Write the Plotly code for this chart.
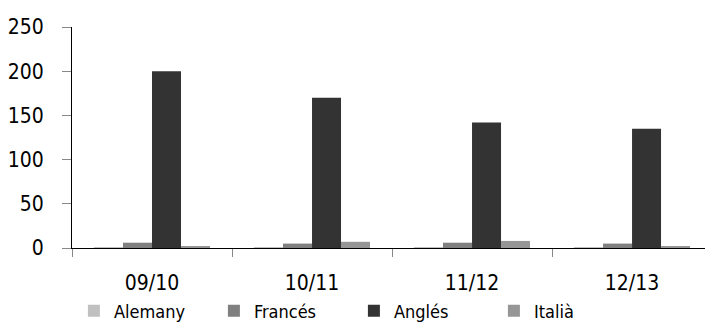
import plotly.graph_objects as go

categories = ["09/10", "10/11", "11/12", "12/13"]
alemany = [1, 1, 1, 0.5]
frances = [6, 5, 6, 5]
angles = [200, 170, 142, 135]
italia = [2, 7, 8, 2]

series = [
    ("Alemany", alemany, "#c0c0c0"),
    ("Francés", frances, "#808080"),
    ("Anglés", angles, "#333333"),
    ("Italià", italia, "#969696"),
]

FONT = "DejaVu Sans Condensed, sans-serif"

fig = go.Figure()
for name, vals, col in series:
    fig.add_trace(go.Bar(x=categories, y=vals, name=name, marker_color=col,
                         marker_line_width=0))

fig.update_layout(
    width=705, height=322,
    margin=dict(l=72, r=0, t=27, b=74, autoexpand=False),
    paper_bgcolor="white", plot_bgcolor="white",
    barmode="group", bargap=0.275, bargroupgap=0,
    font=dict(family=FONT, size=21, color="#000"),
    showlegend=True,
    legend=dict(orientation="h", x=0.003, xanchor="left",
                y=(248 - 311) / 221, yanchor="middle",
                bgcolor="rgba(0,0,0,0)",
                font=dict(family=FONT, size=18, color="#000"),
                entrywidth=95, entrywidthmode="pixels",
                traceorder="normal"),
)
fig.update_xaxes(type="category", range=[-0.5, 3.456], showline=True, linecolor="#000",
                 linewidth=1, ticks="outside", tickson="boundaries", ticklen=8,
                 tickcolor="#888", showgrid=False, zeroline=False, automargin=False,
                 ticklabelstandoff=16)
fig.update_yaxes(range=[0, 250], tickvals=[0, 50, 100, 150, 200, 250], showline=True,
                 linecolor="#000", linewidth=1, ticks="outside", ticklen=9,
                 tickcolor="#888", showgrid=False, zeroline=False, automargin=False,
                 ticklabelstandoff=14)

fig.write_html("out.html", config={"displayModeBar": False},
               post_script="document.body.style.margin='0';")
